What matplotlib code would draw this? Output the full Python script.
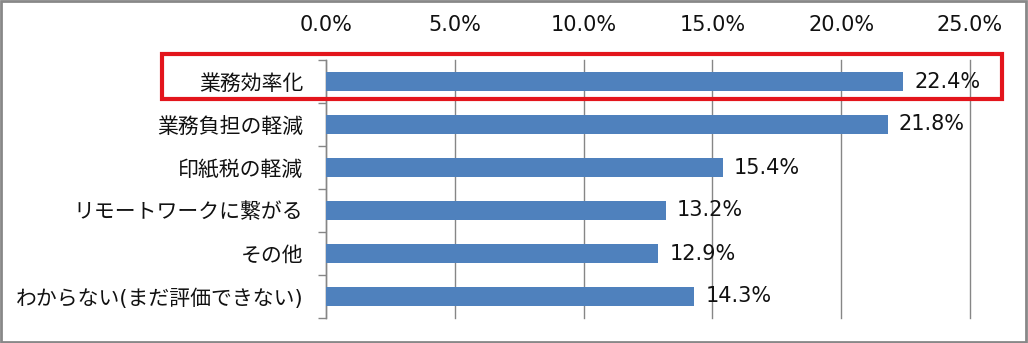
import matplotlib
matplotlib.use('Agg')
import matplotlib.pyplot as plt
from matplotlib.patches import Rectangle
from matplotlib.ticker import FuncFormatter

# DejaVu for digits (close to the Verdana-like numerals), CJK fallback for Japanese
plt.rcParams['font.family'] = ['DejaVu Sans', 'Noto Sans CJK JP']

categories = ['業務効率化', '業務負担の軽減', '印紙税の軽減',
              'リモートワークに繋がる', 'その他', 'わからない(まだ評価できない)']
values = [22.4, 21.8, 15.4, 13.2, 12.9, 14.3]
x_ticks = [0, 5, 10, 15, 20, 25]

bar_color = '#4F81BD'
grid_color = '#868686'
text_color = '#111111'

W, H = 1028, 343
fig = plt.figure(figsize=(W / 100, H / 100), dpi=100)
ax = fig.add_axes([326 / W, 1 - 318 / H, (970 - 326) / W, (318 - 60) / H])

y = list(range(len(categories)))
ax.barh(y, values, height=0.42, color=bar_color, zorder=3)

for yi, v in zip(y, values):
    ax.annotate(f'{v:.1f}%', (v, yi), xytext=(8, 0), textcoords='offset points',
                ha='left', va='center', fontsize=15, color=text_color, zorder=4)

ax.set_xlim(0, 25)
ax.set_ylim(len(categories) - 0.5, -0.5)
ax.set_xticks(x_ticks)
ax.xaxis.set_major_formatter(FuncFormatter(lambda v, p: f'{v:.1f}%'))
ax.xaxis.tick_top()
ax.tick_params(axis='x', length=0, pad=18, labelsize=15, colors=text_color)

ax.set_yticks([i - 0.5 for i in range(len(categories) + 1)], minor=False)
ax.set_yticklabels([])
ax.set_yticks(y, minor=True)
ax.set_yticklabels(categories, minor=True)
ax.tick_params(axis='y', which='major', length=6, width=1, color=grid_color)
ax.tick_params(axis='y', which='minor', length=0, pad=16.5, labelsize=15, colors=text_color)

ax.grid(True, axis='x', color=grid_color, linewidth=1, zorder=0)
for gl in ax.get_xgridlines():
    gl.set_clip_on(False)
for s in ['top', 'right', 'bottom']:
    ax.spines[s].set_visible(False)
ax.spines['left'].set_color(grid_color)
ax.spines['left'].set_linewidth(1)

# red highlight around the first row
ax.add_patch(Rectangle((-6.37, -0.64), 32.6, 1.05, fill=False, edgecolor='#E3151C',
                       linewidth=3, clip_on=False, zorder=5))

# outer chart border
fig.add_artist(Rectangle((0.001, 0.002), 0.997, 0.995, transform=fig.transFigure,
                         fill=False, edgecolor='#888888', linewidth=2))

fig.savefig('out.png', dpi=100)
